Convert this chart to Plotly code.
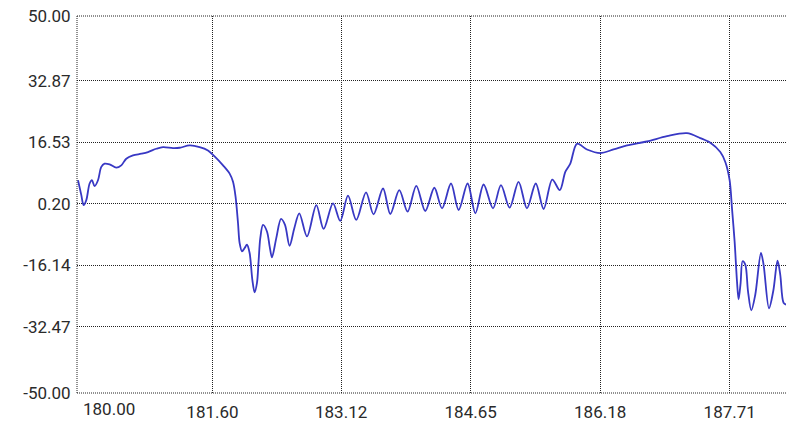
import plotly.graph_objects as go

# Data
x_vals = [180.012, 180.051, 180.078, 180.110, 180.149, 180.177, 180.208, 180.248, 180.287, 180.326,
          180.385, 180.464, 180.523, 180.582, 180.661, 180.760, 180.839, 180.937, 181.016, 181.134,
          181.212, 181.330, 181.448, 181.547, 181.625, 181.725, 181.803, 181.843, 181.873, 181.902,
          181.921, 181.949, 181.980, 182.008, 182.039, 182.071, 182.098, 182.126, 182.145, 182.165,
          182.197, 182.244, 182.275, 182.303, 182.354, 182.410, 182.457, 182.511, 182.567, 182.626,
          182.717, 182.827, 182.913, 183.024, 183.110, 183.201, 183.299, 183.414, 183.503, 183.615,
          183.701, 183.807, 183.905, 184.008, 184.114, 184.221, 184.312, 184.418, 184.508, 184.614,
          184.706, 184.803, 184.914, 185.008, 185.110, 185.216, 185.315, 185.419, 185.512, 185.614,
          185.703, 185.768, 185.827, 185.906, 186.024, 186.181, 186.338, 186.497, 186.733, 186.969,
          187.205, 187.362, 187.481, 187.599, 187.658, 187.709, 187.737, 187.768, 187.796, 187.815,
          187.839, 187.862, 187.894, 187.926, 187.965, 188.012, 188.079, 188.110, 188.174, 188.225,
          188.275, 188.307, 188.346, 188.378]
y_vals = [6.44, 2.49, -0.15, 1.17, 5.57, 6.44, 4.86, 6.44, 9.97, 10.84,
          10.65, 9.78, 10.39, 12.15, 13.02, 13.47, 13.92, 14.79, 15.23, 14.97,
          15.05, 15.66, 15.23, 14.34, 12.76, 10.39, 8.20, 6.02, 2.07, -4.97,
          -10.23, -12.42, -11.55, -10.68, -12.87, -19.90, -23.27, -20.77, -15.05, -8.92,
          -5.41, -7.15, -11.02, -14.00, -8.92, -3.83, -5.41, -10.94, -6.28, -2.33,
          -8.47, -0.15, -6.47, 0.30, -4.36, 2.33, -4.10, 3.20, -2.60, 4.25,
          -2.52, 3.80, -1.88, 4.96, -1.73, 4.44, -1.01, 5.57, -1.46, 5.57,
          -2.33, 5.31, -1.01, 5.12, -0.83, 6.02, -1.01, 5.57, -1.20, 6.62,
          3.80, 8.65, 10.84, 16.10, 14.60, 13.65, 14.60, 15.66, 16.71, 18.13,
          18.92, 17.61, 16.37, 13.92, 11.28, 6.44, -1.01, -9.79, -20.32, -25.17,
          -20.77, -15.05, -15.95, -22.95, -28.06, -23.93, -12.87, -15.95, -27.54, -22.88,
          -14.89, -18.58, -26.04, -26.56]

x_ticks = [181.60, 183.12, 184.65, 186.18, 187.71]
x_tick_text = ["181.60", "183.12", "184.65", "186.18", "187.71"]
x_first_label = "180.00"
y_ticks = [50.00, 32.87, 16.53, 0.20, -16.14, -32.47, -50.00]
y_tick_text = ["50.00", "32.87", "16.53", "0.20", "-16.14", "-32.47", "-50.00"]

x_range = [180.0, 188.375]
y_range = [-50.0, 50.0]

FONT = dict(family="Roboto, Arial, sans-serif", size=17, color="#2a2a2a")
GRID = dict(showgrid=True, gridcolor="#222222", gridwidth=1, griddash="1px,1px")

fig = go.Figure()
fig.add_trace(go.Scatter(
    x=x_vals, y=y_vals, mode="lines",
    line=dict(color="#3838c4", width=1.8, shape="spline", smoothing=0.9),
    hoverinfo="skip", showlegend=False,
))

fig.update_layout(
    width=786, height=422,
    margin=dict(l=77, r=0, t=16, b=26),
    paper_bgcolor="white", plot_bgcolor="white",
    font=FONT,
    xaxis=dict(range=x_range, tickvals=x_ticks, ticktext=x_tick_text,
               zeroline=False, showline=False, ticks="outside", ticklen=4,
               tickcolor="rgba(0,0,0,0)", tickfont=FONT, **GRID),
    yaxis=dict(range=y_range, tickvals=y_ticks, ticktext=y_tick_text,
               zeroline=False, showline=False, ticks="outside", ticklen=2,
               tickcolor="rgba(0,0,0,0)", tickfont=FONT, **GRID),
)

# dotted plot-area border (left, top, bottom)
for (x0, y0, x1, y1) in [(0, 0, 0, 1), (0, 1, 1, 1), (0, 0, 1, 0)]:
    fig.add_shape(type="line", xref="paper", yref="paper", x0=x0, y0=y0, x1=x1, y1=y1,
                  line=dict(color="#222222", width=1, dash="1px,1px"), layer="above")

fig.add_annotation(x=x_range[0], y=0, xref="x", yref="paper", text=x_first_label,
                   showarrow=False, xanchor="left", yanchor="top", xshift=4, yshift=-4,
                   font=FONT)

fig.write_html("out.html")
